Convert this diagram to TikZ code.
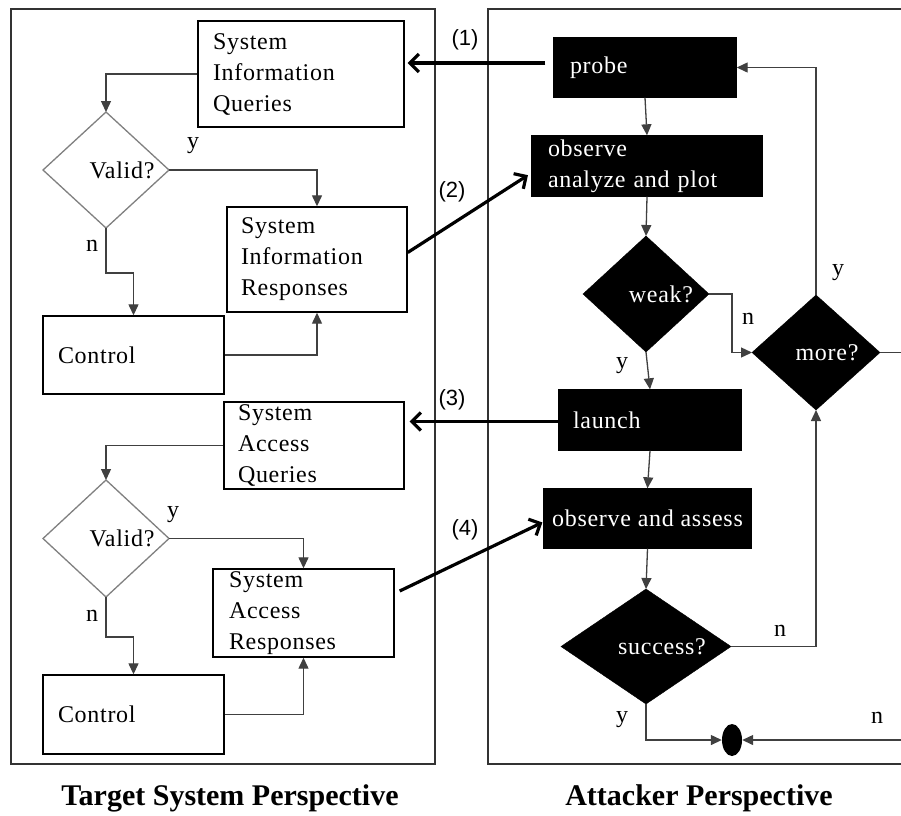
\documentclass[tikz,border=0pt]{standalone}
\usepackage{fontspec}
\setmainfont{Liberation Serif}
\newfontfamily\bodyfont[LetterSpace=3]{Liberation Serif}
\newfontfamily\labfont{Liberation Sans}
\usetikzlibrary{shapes.geometric,arrows.meta,calc}
\begin{document}
\begin{tikzpicture}[x=1pt,y=-1pt,
  txt/.style={font=\bodyfont\fontsize{24}{31}\selectfont},
  wbox/.style={draw=black, line width=1.4pt, fill=white, inner ysep=0pt, align=left, txt},
  bbox/.style={draw=black, line width=1.4pt, fill=black, text=white, inner ysep=0pt, align=left, txt},
  gdia/.style={diamond, draw=black!50, line width=1.3pt, fill=white, inner sep=0pt, outer sep=0pt},
  bdia/.style={diamond, draw=black, fill=black, inner sep=0pt, outer sep=0pt},
  conn/.style={draw=black!75, line width=1.3pt, -{Triangle[length=11pt,width=10pt]}},
  big/.style={line width=3.2pt, -{Straight Barb[length=9pt,width=18pt]}},
  frame/.style={draw=black!80, line width=1.6pt},
  lbl/.style={font=\bodyfont\fontsize{24}{28}\selectfont, inner sep=0pt},
  num/.style={font=\labfont\fontsize{22}{26}\selectfont, inner sep=0pt},
  ttl/.style={font=\bfseries\fontsize{30}{34}\selectfont, inner sep=0pt}]
\useasboundingbox (0,0) rectangle (901,815);
\fill[white] (0,0) rectangle (901,815);
\coordinate (offr) at (940,0);
% frames
\draw[frame] (11,9) rectangle (435,764);
\draw[frame] (offr |- 0,9) -- (488,9) -- (488,764) -- (offr |- 0,764);
% left upper
\node[wbox, minimum width=206, text width=176, inner xsep=15pt, minimum height=106] (siq) at (301,74) {System\\Information\\Queries};
\node[gdia, minimum width=126, minimum height=116] (v1) at (106,170) {};
\node[lbl] (v1t) at (122,170) {Valid?};
\node[wbox, minimum width=180, text width=152, inner xsep=14pt, minimum height=105] (sir) at (317,259.5) {System\\Information\\Responses};
\node[wbox, minimum width=181, text width=151, inner xsep=15pt, minimum height=78] (ctl1) at (133.5,355) {Control};
% left lower
\node[wbox, minimum width=180, text width=152, inner xsep=14pt, minimum height=87] (saq) at (314,445.5) {System\\Access\\Queries};
\node[gdia, minimum width=126, minimum height=117] (v2) at (106,538.5) {};
\node[lbl] (v2t) at (122,538.5) {Valid?};
\node[wbox, minimum width=181, text width=149, inner xsep=16pt, minimum height=88] (sar) at (303.5,613) {System\\Access\\Responses};
\node[wbox, minimum width=181, text width=151, inner xsep=15pt, minimum height=79] (ctl2) at (133.5,714.5) {Control};
% right side
\node[bbox, minimum width=182, text width=150, inner xsep=16pt, minimum height=59] (probe) at (645,67.5) {probe};
\node[bbox, minimum width=230, text width=198, inner xsep=16pt, minimum height=60] (obs) at (647,166) {observe\\analyze and plot};
\node[bdia, minimum width=126, minimum height=116] (weak) at (646,294) {};
\node[lbl, text=white] (weakt) at (661,294) {weak?};
\node[bdia, minimum width=128, minimum height=115] (more) at (816,352.5) {};
\node[lbl, text=white] (moret) at (827,352.5) {more?};
\node[bbox, minimum width=182, text width=154, inner xsep=14pt, minimum height=60] (launch) at (650,420) {launch};
\node[bbox, minimum width=207, inner xsep=4pt, minimum height=59] (obs2) at (647.5,518.5) {observe and assess};
\node[bdia, minimum width=170, minimum height=115] (succ) at (646,646.5) {};
\node[lbl, text=white] (succt) at (662,646.5) {success?};
\node[ellipse, fill=black, minimum width=20, minimum height=32, inner sep=0pt] (dot) at (732,740) {};
% left connectors
\draw[conn] (siq.west) -| (v1.north);
\draw[conn] (v1.east) -| (sir.north);
\draw[conn] (v1.south) -- ++(0,45) -| (ctl1.north);
\draw[conn] (ctl1.east) -| (sir.south);
\draw[conn] (saq.west) -| (v2.north);
\draw[conn] (v2.east) -| (sar.north);
\draw[conn] (v2.south) -- ++(0,40) -| (ctl2.north);
\draw[conn] (ctl2.east) -| (sar.south);
% right connectors
\draw[conn] (probe.south) -- (obs.north);
\draw[conn] (obs.south) -- (weak.north);
\draw[conn] (weak.east) -- ++(23,0) |- (more.west);
\draw[conn] (more.north) |- (probe.east);
\draw[conn] (weak.south) -- (launch.north);
\draw[conn] (launch.south) -- (obs2.north);
\draw[conn] (obs2.south) -- (succ.north);
\draw[conn] (succ.east) -| (more.south);
\draw[conn] (succ.south) |- (dot.west);
\draw[conn] (more.east) -- (more.east -| offr) |- (dot.east);
% thick arrows
\draw[big, shorten <=8pt, shorten >=3pt] ([yshift=4.5pt]probe.west) -- ([yshift=4.5pt]probe.west -| siq.east);
\draw[big, shorten >=4pt] ([yshift=7pt]sir.east) -- ([yshift=-7pt]obs.west);
\draw[big, shorten >=5pt] ([yshift=-1.5pt]launch.west) -- ([yshift=-1.5pt]launch.west -| saq.east);
\draw[big, shorten >=1pt] ([xshift=5pt,yshift=22pt]sar.east) -- ([yshift=-3.5pt]obs2.west);
% numbers
\node[num] (n1) at (465,40) {(1)};
\node[num] (n2) at (452,192) {(2)};
\node[num] (n3) at (452,400) {(3)};
\node[num] (n4) at (465,530) {(4)};
% y/n labels
\node[lbl] (l1) at (193,146) {y};
\node[lbl] (l2) at (92,246) {n};
\node[lbl] (l3) at (173,515) {y};
\node[lbl] (l4) at (92,616) {n};
\node[lbl] (l5) at (748,319) {n};
\node[lbl] (l6) at (838,273) {y};
\node[lbl] (l7) at (622,366) {y};
\node[lbl] (l8) at (780,631) {n};
\node[lbl] (l9) at (622,720) {y};
\node[lbl] (l10) at (877,718) {n};
% titles
\node[ttl] (t1) at (230,798) {Target System Perspective};
\node[ttl] (t2) at (699,798) {Attacker Perspective};
\end{tikzpicture}
\end{document}
